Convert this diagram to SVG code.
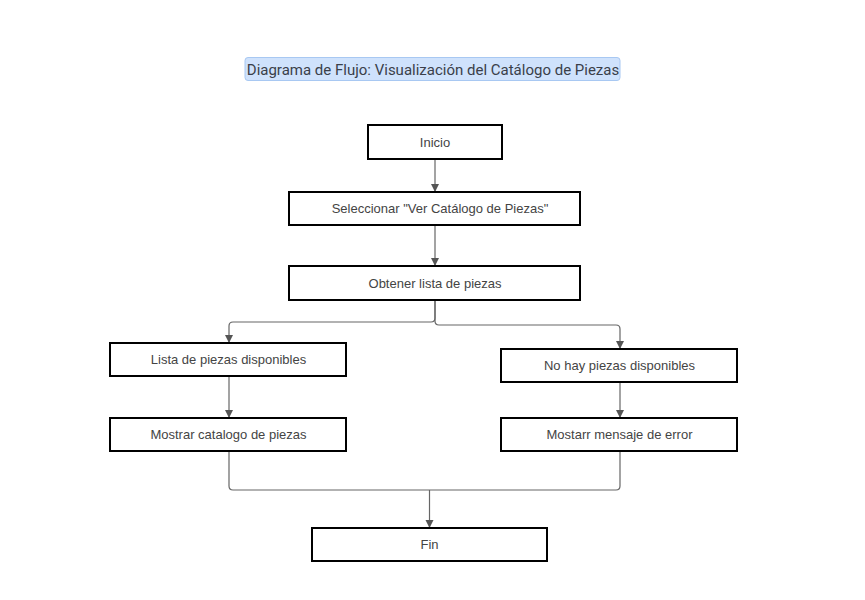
<svg xmlns="http://www.w3.org/2000/svg" width="865" height="600" viewBox="0 0 865 600">
<defs>
<style>
.box{fill:#fff;stroke:#000;stroke-width:2}
.lbl{font-family:"Liberation Sans",Arial,sans-serif;font-size:13px;fill:#444;text-anchor:middle;dominant-baseline:central}
.ttl{font-family:Roboto,"Liberation Sans",sans-serif;font-size:15px;fill:#3a3f4a;text-anchor:middle;dominant-baseline:central}
.conn{fill:none;stroke:#666;stroke-width:1.2}
</style>
<marker id="arr" viewBox="0 0 10 10" refX="10" refY="5" markerWidth="8" markerHeight="10" markerUnits="userSpaceOnUse" orient="auto">
<path d="M0,0 L10,5 L0,10 z" fill="#555"/>
</marker>
</defs>
<rect width="865" height="600" fill="#fff"/>
<g id="title">
<rect x="245" y="57.5" width="375" height="23" rx="3" fill="#cfe2fc" stroke="#a8c8f2" stroke-width="1"/>
<text class="ttl" x="433" y="69.5">Diagrama de Flujo: Visualización del Catálogo de Piezas</text>
</g>
<g id="connectors">
<path class="conn" d="M435,159 V192" marker-end="url(#arr)"/>
<path class="conn" d="M435,225 V266" marker-end="url(#arr)"/>
<path class="conn" d="M435,300 V318 Q435,322 431,322 H233 Q229,322 229,326 V343" marker-end="url(#arr)"/>
<path class="conn" d="M435,300 V321 Q435,325 439,325 H616 Q620,325 620,329 V349" marker-end="url(#arr)"/>
<path class="conn" d="M229,376 V418" marker-end="url(#arr)"/>
<path class="conn" d="M620,382 V418" marker-end="url(#arr)"/>
<path class="conn" d="M229,451 V486 Q229,490 233,490 H616 Q620,490 620,486 V451"/>
<path class="conn" d="M429.5,490 V528" marker-end="url(#arr)"/>
</g>
<g id="inicio"><rect class="box" x="368" y="125" width="134" height="34"/><text class="lbl" x="435" y="142">Inicio</text></g>
<g id="seleccionar"><rect class="box" x="289" y="192" width="291" height="33"/><text class="lbl" x="440" y="208.5">Seleccionar "Ver Catálogo de Piezas"</text></g>
<g id="obtener"><rect class="box" x="289" y="266" width="291" height="34"/><text class="lbl" x="435" y="283">Obtener lista de piezas</text></g>
<g id="lista"><rect class="box" x="110" y="343" width="236" height="33"/><text class="lbl" x="228.5" y="359.5">Lista de piezas disponibles</text></g>
<g id="nohay"><rect class="box" x="501" y="349" width="236" height="33"/><text class="lbl" x="619.5" y="365.5">No hay piezas disponibles</text></g>
<g id="mostrar"><rect class="box" x="110" y="418" width="236" height="33"/><text class="lbl" x="228.5" y="434.5">Mostrar catalogo de piezas</text></g>
<g id="mostarr"><rect class="box" x="501" y="418" width="236" height="33"/><text class="lbl" x="619.5" y="434.5">Mostarr mensaje de error</text></g>
<g id="fin"><rect class="box" x="312" y="528" width="235" height="33"/><text class="lbl" x="429.5" y="544.5">Fin</text></g>
</svg>
